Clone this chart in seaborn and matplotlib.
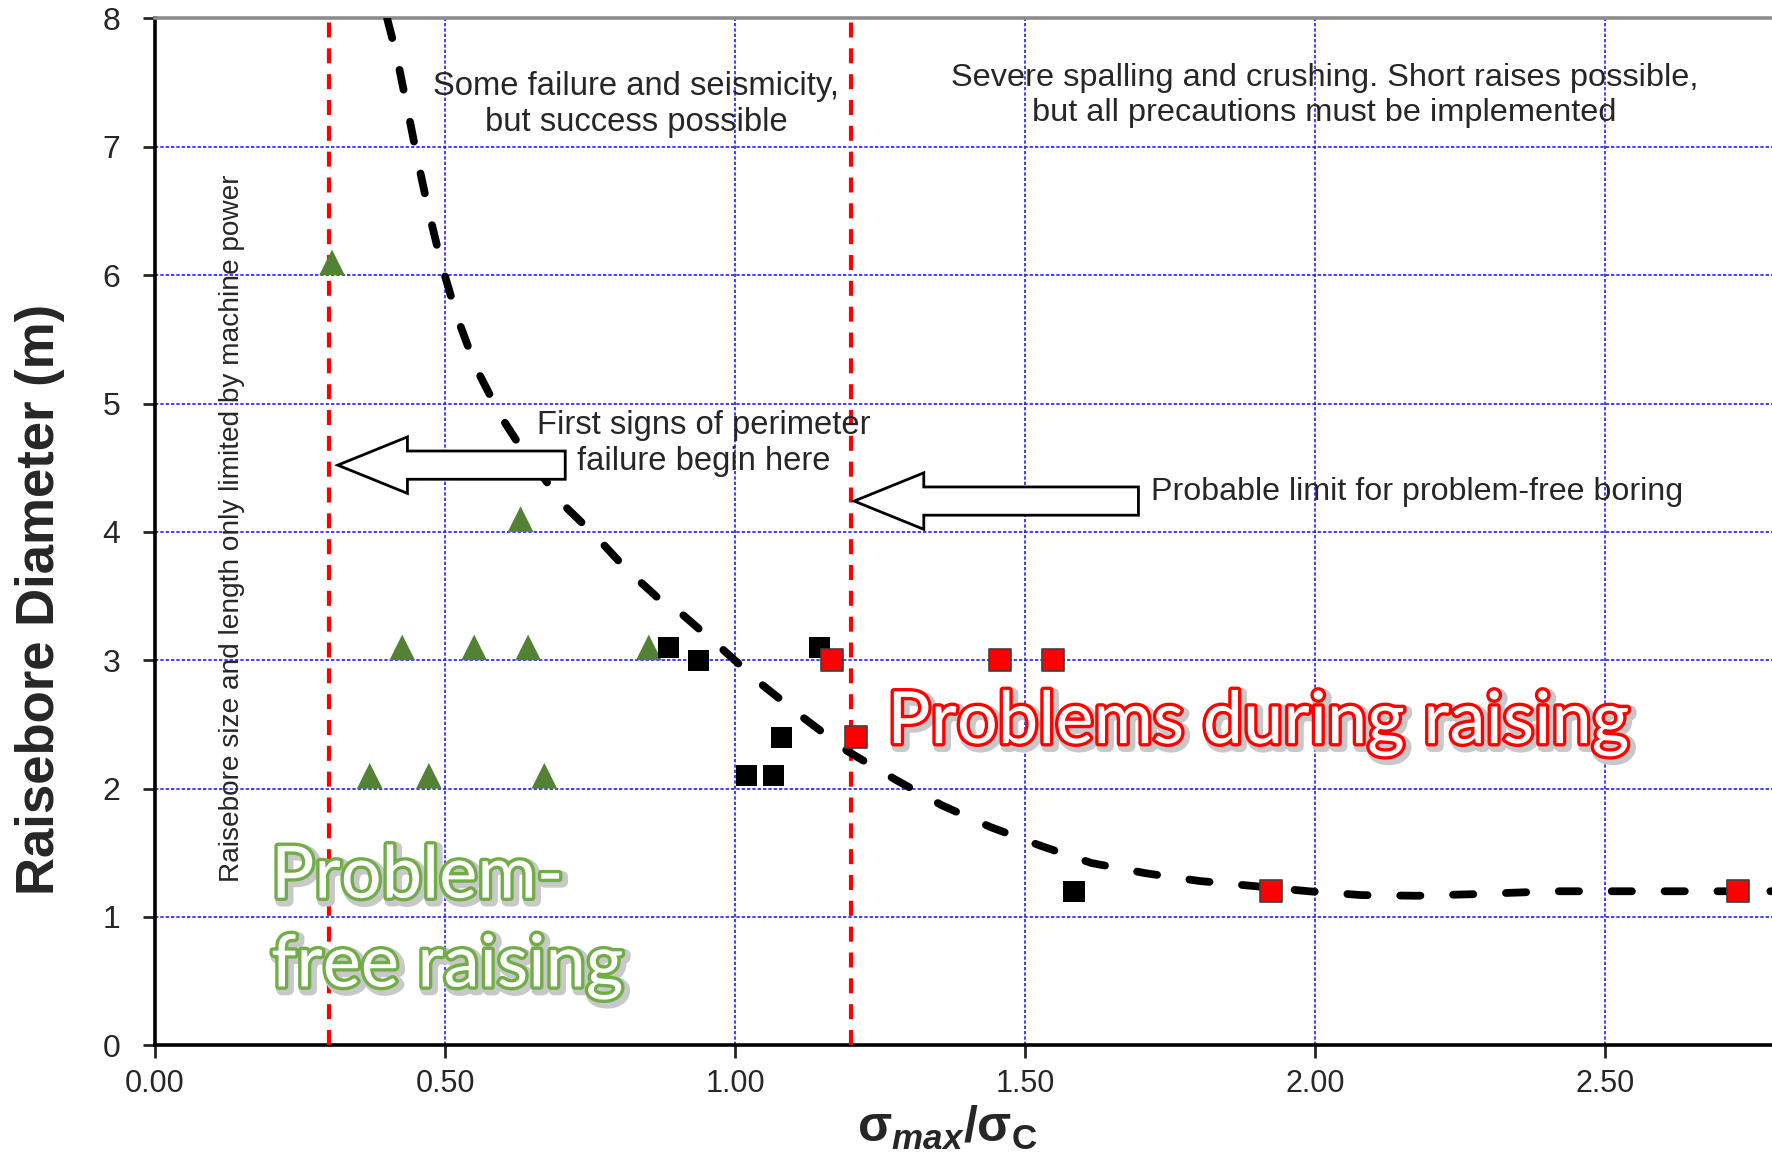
import matplotlib
matplotlib.use('Agg')
import matplotlib.pyplot as plt
import matplotlib.patheffects as pe
from matplotlib.patches import FancyArrow
import seaborn as sns

# measured points (stress ratio, raisebore diameter)
tri_x = [0.305, 0.630, 0.426, 0.550, 0.643, 0.851, 0.370, 0.472, 0.671]
tri_y = [6.1, 4.1, 3.1, 3.1, 3.1, 3.1, 2.1, 2.1, 2.1]
blk_x = [0.885, 0.936, 1.145, 1.080, 1.020, 1.066, 1.584]
blk_y = [3.1, 3.0, 3.1, 2.4, 2.1, 2.1, 1.2]
red_x = [1.166, 1.208, 1.457, 1.547, 1.924, 2.728]
red_y = [3.0, 2.4, 3.0, 3.0, 1.2, 1.2]

# hand-drawn limit curve
curve_x = [0.400, 0.415, 0.434, 0.452, 0.472, 0.494, 0.521, 0.553, 0.596, 0.636,
           0.675, 0.702, 0.761, 0.810, 0.868, 0.908, 0.977, 1.046, 1.118, 1.194,
           1.276, 1.356, 1.440, 1.529, 1.614, 1.708, 1.800, 1.895, 1.988, 2.080,
           2.175, 2.270, 2.410, 2.600, 2.790]
curve_y = [8.00, 7.74, 7.32, 6.91, 6.49, 6.08, 5.67, 5.28, 4.90, 4.62,
           4.39, 4.22, 3.96, 3.72, 3.48, 3.36, 3.09, 2.81, 2.55, 2.29,
           2.07, 1.87, 1.70, 1.55, 1.42, 1.34, 1.28, 1.24, 1.20, 1.17,
           1.165, 1.177, 1.20, 1.20, 1.20]

limits = [0.30, 1.20]
xticks = [0.0, 0.5, 1.0, 1.5, 2.0, 2.5]
yticks = [0, 1, 2, 3, 4, 5, 6, 7, 8]

sns.set_style('white')
plt.rcParams['font.family'] = ['Liberation Sans', 'DejaVu Sans']
plt.rcParams['mathtext.fontset'] = 'custom'
plt.rcParams['mathtext.rm'] = 'Liberation Sans'
plt.rcParams['mathtext.bf'] = 'Liberation Sans:bold'
plt.rcParams['mathtext.it'] = 'Liberation Sans:italic'
plt.rcParams['mathtext.bfit'] = 'Liberation Sans:bold:italic'

fig = plt.figure(figsize=(8.86, 5.775), dpi=200)
ax = fig.add_axes([0.0875, 0.095, 0.9125, 0.889])

sns.lineplot(x=curve_x, y=curve_y, sort=False, estimator=None, color='black',
             lw=2.8, ax=ax, zorder=4)
ax.lines[0].set_dashes([2.6, 4.2])
ax.lines[0].set_dash_capstyle('round')

for xv in limits:
    ax.axvline(xv, color='#ff0000', lw=1.5, ls=(0, (3.6, 2.6)), zorder=3)

sns.scatterplot(x=tri_x, y=tri_y, marker='^', s=85, color='#548235',
                edgecolor='none', ax=ax, zorder=5)
sns.scatterplot(x=blk_x, y=blk_y, marker='s', s=58, color='black',
                edgecolor='none', ax=ax, zorder=6)
sns.scatterplot(x=red_x, y=red_y, marker='s', s=58, color='#ff0000',
                edgecolor='#404040', linewidth=0.6, ax=ax, zorder=7)

ax.set_xlim(0, 2.787)
ax.set_ylim(0, 8)
ax.set_xticks(xticks)
ax.set_xticklabels([f'{v:.2f}' for v in xticks])
ax.set_yticks(yticks)
ax.grid(True, color='#2020ff', lw=0.6, ls=(0, (2, 1.2)))
ax.set_axisbelow(True)

for s in ['left', 'bottom']:
    ax.spines[s].set_color('black')
    ax.spines[s].set_linewidth(1.3)
ax.spines['top'].set_color('#8c8c8c')
ax.spines['top'].set_linewidth(1.3)
ax.spines['right'].set_visible(False)
ax.tick_params(axis='y', direction='out', length=4.5, width=1, pad=8, labelsize=11.5, left=True)
ax.tick_params(axis='x', direction='out', length=4.5, width=1, pad=4, labelsize=11, bottom=True)

ax.set_ylabel('Raisebore Diameter (m)', fontsize=19, fontweight='bold')
ax.yaxis.set_label_coords(-0.071, 0.434)
ax.yaxis.label.set_va('center')
ax.set_xlabel(r'$\mathbf{σ}_{\mathbfit{max}}\mathbf{/σ}_{\mathbf{C}}$', fontsize=18)
ax.xaxis.set_label_coords(0.49, -0.081)
ax.xaxis.label.set_va('center')

# block arrows
for tail, tip in [(0.707, 0.315), (1.695, 1.205)]:
    yc = 4.52 if tip < 1 else 4.24
    ax.add_patch(FancyArrow(tail, yc, tip - tail, 0, width=0.22, head_width=0.44,
                            head_length=0.12, length_includes_head=True,
                            facecolor='white', edgecolor='black', lw=1.0, zorder=8))

ax.text(0.829, 7.33, 'Some failure and seismicity,\nbut success possible',
        ha='center', va='center', fontsize=11.8, linespacing=1.2, zorder=9)
ax.text(2.016, 7.40, 'Severe spalling and crushing. Short raises possible,\nbut all precautions must be implemented',
        ha='center', va='center', fontsize=11.7, linespacing=1.2, zorder=9)
ax.text(0.945, 4.69, 'First signs of perimeter\nfailure begin here',
        ha='center', va='center', fontsize=11.8, linespacing=1.2, zorder=9)
ax.text(1.716, 4.31, 'Probable limit for problem-free boring',
        ha='left', va='center', fontsize=11.6, zorder=9)
ax.text(0.133, 4.03, 'Raisebore size and length only limited by machine power',
        rotation=90, ha='center', va='center', fontsize=10.1, zorder=9)

def outlined(col):
    return [pe.Stroke(linewidth=4, foreground='#c8c8c8', offset=(1.2, -1.2)),
            pe.Stroke(linewidth=2.4, foreground=col), pe.Normal()]

ax.text(1.262, 2.51, 'Problems during raising', ha='left', va='center',
        fontsize=26, family='Lato', color='white', zorder=9,
        path_effects=outlined('#ff0000'))
ax.text(0.20, 0.96, 'Problem-\nfree raising', ha='left', va='center',
        fontsize=26, family='Lato', color='white', linespacing=1.45, zorder=9,
        path_effects=outlined('#70ad47'))

fig.savefig('out.png', dpi=200)
